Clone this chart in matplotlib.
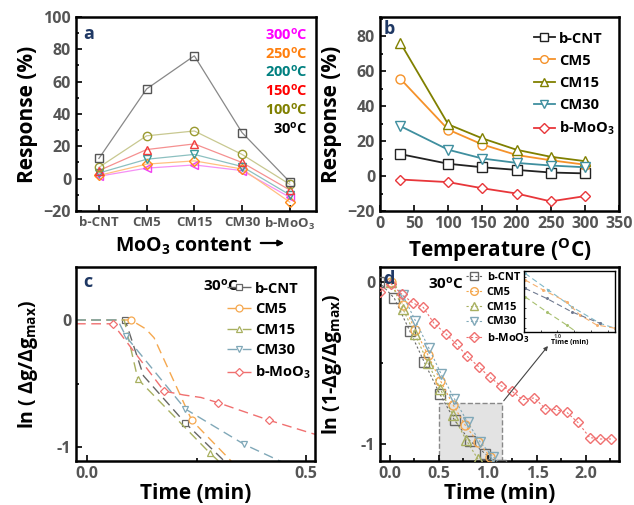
import matplotlib
matplotlib.use("Agg")
import matplotlib.pyplot as plt
import numpy as np
from matplotlib.patches import Rectangle

plt.rcParams['font.family'] = ['Open Sans', 'DejaVu Sans']
plt.rcParams['font.weight'] = 'bold'
plt.rcParams['mathtext.fontset'] = 'custom'
plt.rcParams['mathtext.rm'] = 'Open Sans:bold'
plt.rcParams['mathtext.it'] = 'Open Sans:bold'
plt.rcParams['mathtext.bf'] = 'Open Sans:bold'

# ---------------- data ----------------
samples = ['b-CNT', 'CM5', 'CM15', 'CM30', 'b-MoO$_3$']
temps = [30, 100, 150, 200, 250, 300]

resp_bcnt = [12.5, 7, 5, 3.5, 2, 1.5]
resp_cm5 = [55.5, 26.5, 18, 12, 9, 6.5]
resp_cm15 = [76, 29.5, 21.5, 15, 11, 8.5]
resp_cm30 = [28.5, 15, 10, 7.5, 6, 5]
resp_bmoo3 = [-2, -3.5, -7, -10, -14.5, -11.5]

# panel c (ln(dg/dgmax) vs time, 30 C)
c_bcnt_x = [-0.025, 0.087, 0.129, 0.224, 0.31, 0.36]
c_bcnt_y = [0, 0, -0.44, -0.81, -1.10, -1.3]
c_cm5_x = [-0.025, 0.1, 0.134, 0.153, 0.239, 0.326, 0.36]
c_cm5_y = [0, 0, -0.07, -0.14, -0.79, -1.10, -1.25]
c_cm15_x = [-0.025, 0.085, 0.116, 0.281, 0.36]
c_cm15_y = [0, 0, -0.465, -1.05, -1.3]
c_cm30_x = [-0.025, 0.07, 0.089, 0.224, 0.359, 0.44, 0.5]
c_cm30_y = [0, 0, -0.13, -0.70, -0.98, -1.11, -1.2]
c_bmoo3_x = [-0.025, 0.059, 0.176, 0.22, 0.26, 0.298, 0.416, 0.52]
c_bmoo3_y = [-0.03, -0.03, -0.56, -0.59, -0.61, -0.65, -0.79, -0.90]

# panel d (ln(1-dg/dgmax) vs time, 30 C)
d_bcnt_x = [-0.11, 0.044, 0.2, 0.35, 0.507, 0.66, 0.813, 0.974, 1.13]
d_bcnt_y = [0, -0.1, -0.3, -0.495, -0.69, -0.855, -0.98, -1.062, -1.13]
d_cm5_x = [0.006, 0.133, 0.26, 0.388, 0.514, 0.643, 0.769, 0.898, 1.025]
d_cm5_y = [0, -0.14, -0.296, -0.453, -0.609, -0.758, -0.886, -0.99, -1.08]
d_cm15_x = [0.008, 0.133, 0.252, 0.388, 0.514, 0.64, 0.776, 0.898, 1.02]
d_cm15_y = [0, -0.168, -0.319, -0.5, -0.661, -0.82, -0.975, -1.095, -1.2]
d_cm30_x = [0.13, 0.26, 0.395, 0.524, 0.656, 0.793, 0.922, 1.051, 1.18]
d_cm30_y = [-0.08, -0.24, -0.406, -0.571, -0.72, -0.868, -0.99, -1.08, -1.15]
d_bmoo3_x = [-0.1, 0.01, 0.12, 0.235, 0.34, 0.45, 0.57, 0.68, 0.79, 0.91, 1.017,
             1.13, 1.245, 1.354, 1.473, 1.586, 1.694, 1.806, 1.918, 2.038, 2.146, 2.255]
d_bmoo3_y = [-0.06, -0.01, -0.075, -0.13, -0.157, -0.256, -0.32, -0.385, -0.46, -0.526, -0.588,
             -0.64, -0.675, -0.727, -0.716, -0.783, -0.789, -0.806, -0.868, -0.961, -0.97, -0.97]

# inset of panel d
in_cm30_x = [0.904, 0.973, 1.042, 1.126, 1.17]
in_cm30_y = [-0.913, -0.994, -1.075, -1.156, -1.18]
in_cm5_x = [0.904, 0.958, 1.027, 1.067, 1.116, 1.17]
in_cm5_y = [-0.945, -0.994, -1.051, -1.116, -1.164, -1.18]
in_bcnt_x = [0.904, 0.968, 1.042, 1.126]
in_bcnt_y = [-0.986, -1.035, -1.1, -1.156]
in_cm15_x = [0.904, 0.968, 1.027, 1.062]
in_cm15_y = [-1.027, -1.1, -1.164, -1.205]

# ---------------- styles ----------------
TICKC = '#555555'
LETTERC = '#1f3864'

fig = plt.figure(figsize=(6.34, 5.05), dpi=100)

def style_axes(ax):
    for s in ax.spines.values():
        s.set_linewidth(1.8)
    ax.tick_params(which='both', direction='in', colors='black', labelcolor=TICKC,
                   labelsize=11.5, width=1.2)
    ax.tick_params(which='major', length=4)
    ax.tick_params(which='minor', length=2.5)
    for lab in ax.get_xticklabels() + ax.get_yticklabels():
        lab.set_fontweight('bold')

def deg(t):
    return t + r'$^{\mathrm{o}}$C'

# ---------------- panel a ----------------
axa = fig.add_axes([76/634, 1-211/505, 240/634, 194/505])
byT = list(zip(resp_bcnt, resp_cm5, resp_cm15, resp_cm30, resp_bmoo3))
a_styles = [
    ('#555555', 's', '#888888'),
    ('#9a9a30', 'o', '#c8c890'),
    ('#f03c3c', '^', '#f59090'),
    ('#3a9a9a', 'v', '#8cc0c0'),
    ('#ff8c1a', 'D', '#ffc080'),
    ('#f040f0', '<', '#f590f5'),
]
xs = np.arange(len(samples))
for i in range(len(temps) - 1, -1, -1):
    ec, mk, lc = a_styles[i]
    axa.plot(xs, byT[i], color=lc, lw=0.9, zorder=2)
    axa.plot(xs, byT[i], ls='none', marker=mk, mfc='none', mec=ec, ms=6 if mk != 'D' else 5,
             mew=1.0, zorder=3)
axa.set_xlim(-0.48, 4.55)
axa.set_ylim(-20, 100)
axa.set_xticks(xs)
axa.set_xticklabels(samples)
axa.set_yticks([-20, 0, 20, 40, 60, 80, 100])
axa.set_yticks(np.arange(-10, 100, 20), minor=True)
style_axes(axa)
axa.tick_params(axis='x', labelsize=9.5)
axa.set_ylabel('Response (%)', fontsize=15, fontweight='bold', labelpad=4)
axa.set_xlabel('MoO$_3$ content', fontsize=14, fontweight='bold', labelpad=3)
axa.xaxis.label.set_x(0.45)
fig.add_artist(matplotlib.patches.FancyArrowPatch(
    (258/634, 1 - 243/505), (287/634, 1 - 243/505), transform=fig.transFigure,
    arrowstyle='-|>', mutation_scale=8, lw=1.6, color='black'))
axa.text(0.03, 0.96, 'a', transform=axa.transAxes, fontsize=13, fontweight='bold',
         color=LETTERC, va='top')
leg_a = [('300', '#ff00ff'), ('250', '#ff7f0e'), ('200', '#008080'),
         ('150', '#ff0000'), ('100', '#808000'), ('30', 'black')]
for k, (t, c) in enumerate(leg_a):
    axa.text(0.965, 0.91 - k * 0.097, deg(t), transform=axa.transAxes, ha='right',
             va='center', fontsize=10.5, fontweight='bold', color=c)

# ---------------- panel b ----------------
axb = fig.add_axes([380/634, 1-211/505, 239/634, 194/505])
b_series = [
    (resp_bcnt, 'b-CNT', '#222222', 's'),
    (resp_cm5, 'CM5', '#f5922a', 'o'),
    (resp_cm15, 'CM15', '#808000', '^'),
    (resp_cm30, 'CM30', '#3f8f9f', 'v'),
    (resp_bmoo3, 'b-MoO$_3$', '#e8363a', 'D'),
]
for vals, lab, c, mk in b_series:
    axb.plot(temps, vals, color=c, lw=1.3, marker=mk, mfc='white', mec=c, mew=1.0,
             ms=6.5 if mk != 'D' else 5.5, label=lab)
axb.set_xlim(0, 350)
axb.set_ylim(-20, 90.9)
axb.set_xticks(np.arange(0, 351, 50))
axb.set_yticks([-20, 0, 20, 40, 60, 80])
axb.set_yticks(np.arange(-10, 91, 20), minor=True)
style_axes(axb)
axb.set_ylabel('Response (%)', fontsize=15, fontweight='bold', labelpad=4)
axb.set_xlabel('Temperature ($^{\\mathrm{O}}$C)', fontsize=15, fontweight='bold', labelpad=3)
axb.text(0.015, 0.985, 'b', transform=axb.transAxes, fontsize=13, fontweight='bold',
         color=LETTERC, va='top')
axb.legend(loc='upper right', bbox_to_anchor=(1.02, 0.97), frameon=False, fontsize=10.5,
           handlelength=1.4, handletextpad=0.3, labelspacing=0.55, borderaxespad=0.2,
           markerscale=0.85)

# ---------------- panel c ----------------
axc = fig.add_axes([76/634, 1-461/505, 239/634, 194/505])
c_series = [
    (c_bcnt_x, c_bcnt_y, 'b-CNT', '#666666', 's', [1, 3]),
    (c_cm5_x, c_cm5_y, 'CM5', '#f5a84f', 'o', [1, 4]),
    (c_cm15_x, c_cm15_y, 'CM15', '#a8b060', '^', [2, 3]),
    (c_cm30_x, c_cm30_y, 'CM30', '#80a8b8', 'v', [2, 3, 4]),
    (c_bmoo3_x, c_bmoo3_y, 'b-MoO$_3$', '#f07070', 'D', [1, 2, 5, 6]),
]
for x, y, lab, c, mk, me in c_series:
    axc.plot(x, y, color=c, lw=1.0, ls=(0, (7, 4)), marker=mk, markevery=me, mfc='white',
             mec=c, mew=0.9, ms=5 if mk != 'D' else 4.5, label=lab)
axc.set_xlim(-0.025, 0.52)
axc.set_ylim(-1.11, 0.417)
axc.set_xticks([0.0, 0.5])
axc.set_xticks([0.25], minor=True)
axc.set_xticklabels(['0.0', '0.5'])
axc.set_yticks([-1, 0])
axc.set_yticklabels(['-1', '0'])
axc.set_yticks([-0.5], minor=True)
style_axes(axc)
axc.set_ylabel('ln ( $\\Delta$g/$\\Delta$g$_{\\mathrm{max}}$)', fontsize=14,
               fontweight='bold', labelpad=12)
axc.set_xlabel('Time (min)', fontsize=15, fontweight='bold', labelpad=1)
axc.text(0.03, 0.97, 'c', transform=axc.transAxes, fontsize=13, fontweight='bold',
         color=LETTERC, va='top')
axc.legend(loc='upper right', bbox_to_anchor=(1.02, 0.97), frameon=False, fontsize=10.5,
           handlelength=1.6, handletextpad=0.3, labelspacing=0.45, borderaxespad=0.2)
axc.text(0.53, 0.905, deg('30'), transform=axc.transAxes, fontsize=11, fontweight='bold',
         va='center', color='black')

# ---------------- panel d ----------------
axd = fig.add_axes([380/634, 1-461/505, 239/634, 194/505])
rect = Rectangle((0.503, -1.13), 1.143 - 0.503, -0.747 + 1.13, facecolor='#e3e3e3',
                 edgecolor='#888888', ls='--', lw=1.0, zorder=0)
axd.add_patch(rect)
d_series = [
    (d_bcnt_x, d_bcnt_y, 'b-CNT', '#666666', 's'),
    (d_cm5_x, d_cm5_y, 'CM5', '#f5a84f', 'o'),
    (d_cm15_x, d_cm15_y, 'CM15', '#a8b060', '^'),
    (d_cm30_x, d_cm30_y, 'CM30', '#80a8b8', 'v'),
    (d_bmoo3_x, d_bmoo3_y, 'b-MoO$_3$', '#f07070', 'D'),
]
for x, y, lab, c, mk in d_series:
    axd.plot(x, y, color=c, lw=0.8, ls=(0, (2, 2)), marker=mk, mfc='none', mec=c, mew=1.0,
             ms=6.5 if mk != 'D' else 5.5, label=lab, zorder=3)
axd.set_xlim(-0.102, 2.337)
axd.set_ylim(-1.106, 0.093)
axd.set_xticks([0.0, 0.5, 1.0, 1.5, 2.0])
axd.set_xticks(np.arange(0.25, 2.3, 0.5), minor=True)
axd.set_yticks([-1, 0])
axd.set_yticklabels(['-1', '0'])
axd.set_yticks([-0.5], minor=True)
style_axes(axd)
axd.set_ylabel('ln (1-$\\Delta$g/$\\Delta$g$_{\\mathrm{max}}$)', fontsize=14,
               fontweight='bold', labelpad=12)
axd.set_xlabel('Time (min)', fontsize=15, fontweight='bold', labelpad=1)
axd.text(0.015, 0.985, 'd', transform=axd.transAxes, fontsize=13, fontweight='bold',
         color=LETTERC, va='top')
axd.legend(loc='upper left', bbox_to_anchor=(0.33, 1.01), frameon=False, fontsize=8,
           handlelength=1.6, handletextpad=0.3, labelspacing=0.35, borderaxespad=0.2,
           markerscale=0.85)
axd.text(0.2, 0.915, deg('30'), transform=axd.transAxes, fontsize=11, fontweight='bold',
         va='center', color='black')
axd.annotate('', xy=(1.63, -0.382), xytext=(1.143, -0.747),
             arrowprops=dict(arrowstyle='-|>', color='#444444', lw=0.8, mutation_scale=6))

# inset
axi = fig.add_axes([523.7/634, 1-332.3/505, 91/634, 61.6/505])
in_series = [
    (in_cm30_x, in_cm30_y, '#80b8c8'),
    (in_cm5_x, in_cm5_y, '#f5b070'),
    (in_bcnt_x, in_bcnt_y, '#707a90'),
    (in_cm15_x, in_cm15_y, '#a8c070'),
]
for x, y, c in in_series:
    axi.plot(x, y, color=c, lw=0.8, ls=(0, (5, 3)), marker='o', ms=1.2, mfc=c, mec=c)
axi.set_xlim(0.9, 1.17)
axi.set_ylim(-1.2, -0.9)
for s in axi.spines.values():
    s.set_linewidth(1.0)
axi.set_xticks([0.95, 1.0, 1.05, 1.1, 1.15])
axi.set_xticklabels(['', '1.0', '', '', ''])
axi.set_yticks(np.arange(-1.18, -0.9, 0.05))
axi.set_yticklabels([])
axi.tick_params(which='both', direction='in', length=1.5, width=0.5, labelsize=4,
                labelcolor='#444444', pad=1)
axi.set_xlabel('Time (min)', fontsize=5, fontweight='bold', labelpad=0.5)

fig.savefig('out.png', dpi=100)
